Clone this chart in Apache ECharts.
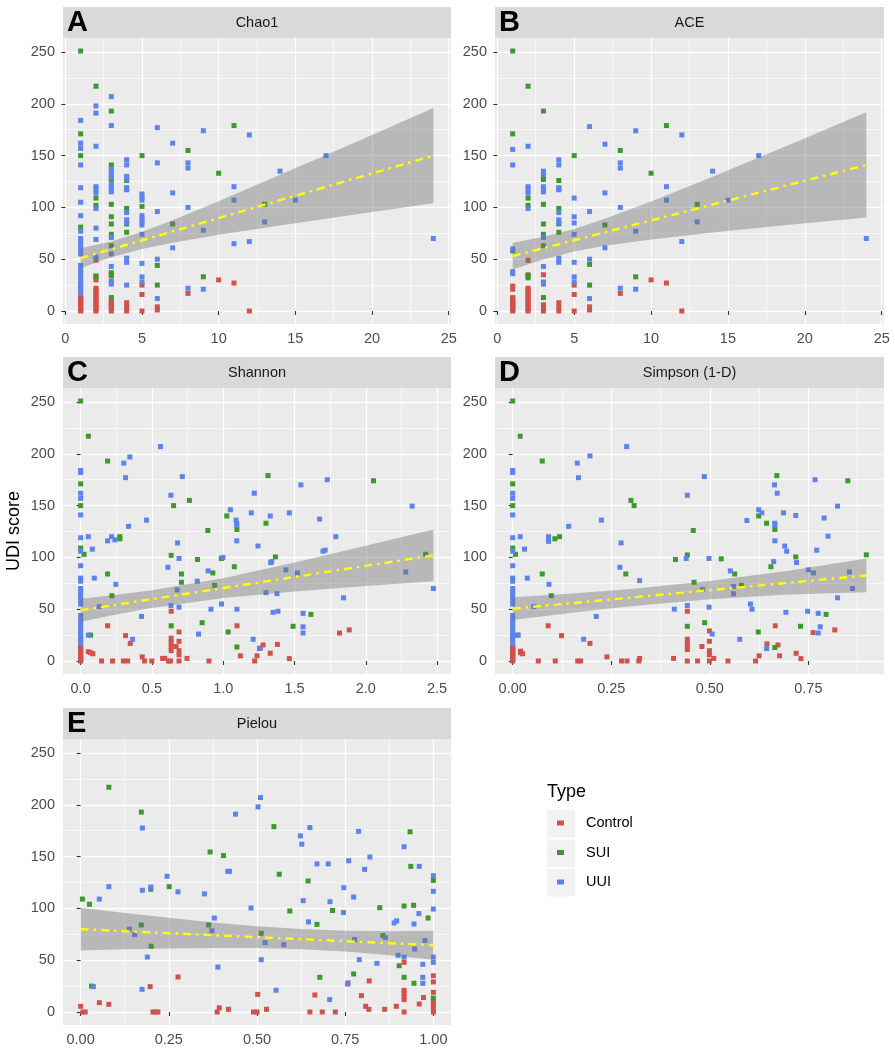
<!DOCTYPE html>
<html><head><meta charset="utf-8">
<script src="https://cdn.jsdelivr.net/npm/echarts@6/dist/echarts.min.js"></script>
<style>html,body{margin:0;padding:0;background:#fff}#c{width:895px;height:1050px}</style>
</head><body><div id="c"></div>
<script>
// ---------------- DATA ----------------
const TYPES = ['Control', 'SUI', 'UUI'];
const Y_TICKS = [0, 50, 100, 150, 200, 250];
const Y_MINOR = [25, 75, 125, 175, 225];
const Y_RANGE = [0, 251];

// Panel A: Chao1 (columns: [x, [y...]])
const A_control = [[1,[0,1,2,3,4,5,6,7,8,9,10,11,12,13,14]],[2,[0,2,4,6,8,10,12,14,16,18,20,22,30,34,49]],[3,[0,2,4,6,8,10,34]],[4,[0,4,8]],[5,[0,16,25]],[6,[1,4]],[8,[17]],[10,[30]],[11,[27]],[12,[0]]];
const A_SUI = [[1,[251,171,150,81,23]],[2,[217,109,102,33]],[3,[193,141,127,103,91,84,74,63,37,35,13]],[4,[126,118,99,84,76]],[5,[150,101]],[6,[44,25]],[7,[84]],[8,[155]],[9,[33]],[10,[133]],[11,[179]],[13,[103]]];
const A_UUI = [[1,[184,162,157,141,119,105,92,77,70,67,64,61,58,55,44,40,37,34,31,27,24,20,17]],[2,[198,191,159,120,117,114,99,80,69,52]],[3,[207,179,137,134,131,129,123,120,117,115,71,55,43,29,26]],[4,[146,141,130,127,119,117,95,88,85,51,47,25]],[5,[113,110,107,92,89,86,83,74,46,33,28]],[6,[177,143,96,50,12]],[7,[162,114,61]],[8,[143,138,100,22]],[9,[174,78,21]],[11,[120,107,65]],[12,[170,67]],[13,[86]],[14,[135]],[15,[107]],[17,[150]],[24,[70]]];
const A_fit = [[1,51],[24,150]];
const A_bandX = [1,3,5,7,10,14,19,24];
const A_bandLo = [41.5,52,59.8,66,73.5,82.5,93.5,104];
const A_bandHi = [60.5,67,76.6,87.6,106,131.5,163.5,196];

// Panel B: ACE
const B_control = [[1,[0,1,2,3,4,5,6,7,8,9,10,11,12,13,21,24]],[2,[0,2,4,6,8,10,12,14,16,18,20,22,35,49]],[3,[0,3,6,35]],[4,[0,4,8]],[5,[0,16,25]],[6,[1,4]],[8,[17]],[10,[30]],[11,[27]],[12,[0]]];
const B_SUI = [[1,[251,171,58]],[2,[217,109,102,34,32]],[3,[193,130,127,103,84,74,63,13]],[4,[126,118,99,84,76]],[5,[150]],[6,[45,25]],[7,[83]],[8,[155]],[9,[33]],[10,[133]],[11,[179]],[13,[103]]];
const B_UUI = [[1,[156,141,60,38,36]],[2,[159,120,117,114,99]],[3,[135,132,120,117,115,71,43,28,26]],[4,[146,141,119,117,95,88,85,51,47]],[5,[109,91,85,74,47,33,28]],[6,[178,96,50,12]],[7,[161,114,61]],[8,[143,138,100,22]],[9,[174,77,21]],[11,[120,107]],[12,[170,67]],[13,[86]],[14,[135]],[15,[107]],[17,[150]],[24,[70]]];
const B_fit = [[1,53],[24,141]];
const B_bandX = [1,3,5,7,10,14,19,24];
const B_bandLo = [40,49.8,57.4,63,69.1,75.7,83.2,90.2];
const B_bandHi = [66,71.6,79.2,89,105.7,129.7,160.6,191.8];

// Samples with a single taxon (x = 0 in Shannon / Simpson)
const zero_control = [0,1,2,3,4,5,6,7,8,9,10,11,12,13,14];
const zero_SUI = [251,171,150,109,22];
const zero_UUI = [184,182,162,157,141,119,106,92,80,77,70,67,64,61,58,55,44,40,37,34,31,27,24,20,17];

// Panel C: Shannon
const C_control = [[0.054,9],[0.07,8],[0.086,7],[0.189,34],[0.147,0],[0.224,0],[0.315,24.5],[0.348,17],[0.30,0],[0.33,0],[0.432,4],[0.448,0],[0.499,0],[0.635,48],[0.635,22],[0.635,18],[0.635,14],[0.635,10],[0.669,14],[0.69,28],[0.69,19],[0.69,10],[0.69,6],[0.69,0],[0.575,2.5],[0.59,2.5],[0.617,0],[0.63,0],[0.746,2.5],[0.90,0],[1.097,34],[1.12,5],[1.22,0],[1.237,5],[1.26,12.5],[1.28,15.5],[1.33,7.5],[1.38,16],[1.464,2.3],[1.816,27],[1.884,30]];
const C_SUI = [[0.054,217],[0.024,103],[0.07,25],[0.189,193],[0.189,84],[0.219,63],[0.275,120],[0.275,118],[0.652,150],[0.635,102],[0.635,34],[0.707,84],[0.707,76],[0.763,155],[0.82,98],[0.852,37],[0.892,126],[0.927,85],[0.94,73],[0.987,99],[1.025,140],[1.096,127],[1.078,91],[1.035,28],[1.096,13.5],[1.30,133],[1.314,179],[1.366,100.5],[1.49,33.5],[1.615,45],[2.054,174],[2.42,103]];
const C_UUI = [[0.054,120],[0.082,108],[0.096,80],[0.054,25],[0.13,52.5],[0.189,116],[0.217,120],[0.240,117],[0.247,74],[0.303,191],[0.345,197],[0.315,177],[0.336,130],[0.364,21],[0.462,136],[0.427,43],[0.560,207],[0.612,90.5],[0.633,160],[0.68,114],[0.69,99],[0.677,68.6],[0.634,53.5],[0.69,52],[0.713,178],[0.818,77],[0.827,26],[0.894,87],[0.914,50],[0.998,100],[0.988,55],[1.05,146],[1.09,136],[1.095,133],[1.095,131],[1.095,116],[1.096,50],[1.197,143],[1.218,162],[1.244,111],[1.21,21],[1.254,12],[1.33,140],[1.333,95],[1.34,96],[1.30,66],[1.377,65],[1.35,47],[1.384,48],[1.464,143],[1.44,88],[1.52,85],[1.545,170],[1.56,46],[1.56,33],[1.56,27],[1.676,137],[1.70,106],[1.715,107],[1.73,175],[1.79,120],[1.844,61],[2.325,149.5],[2.28,86],[2.474,70]];
const C_fit = [[0,49],[2.474,102]];
const C_bandX = [0,0.25,0.5,1.0,1.5,2.0,2.474];
const C_bandLo = [38,44.9,51.2,60.9,67.1,72.3,77];
const C_bandHi = [60,63.9,68.2,79.9,95.1,111.3,127];

// Panel D: Simpson (1-D)
const D_control = [[0.02,9.5],[0.02,8],[0.025,7],[0.065,0],[0.09,34],[0.108,0],[0.124,24.5],[0.165,0],[0.172,0],[0.196,17],[0.239,4],[0.276,0],[0.29,0],[0.32,0],[0.322,2.5],[0.408,2.5],[0.443,48],[0.443,21],[0.443,18],[0.443,14],[0.443,11],[0.443,0],[0.469,0],[0.48,14],[0.499,29],[0.499,19],[0.499,10],[0.499,6],[0.499,0],[0.51,2.5],[0.546,0],[0.616,0],[0.625,5],[0.645,16.5],[0.666,34],[0.673,15.5],[0.677,5],[0.719,7.5],[0.731,2.3],[0.762,27.4],[0.817,30]];
const D_SUI = [[0.019,217],[0.007,103],[0.012,25],[0.075,193],[0.075,84],[0.098,63],[0.107,118],[0.119,120],[0.30,155],[0.308,150],[0.287,84],[0.458,126],[0.443,102.4],[0.413,98],[0.46,76],[0.443,33.5],[0.487,37],[0.529,98.6],[0.563,84],[0.58,73],[0.623,28],[0.624,140],[0.644,133],[0.655,91],[0.665,127],[0.67,179],[0.665,13],[0.718,100.5],[0.73,33.5],[0.795,45],[0.85,174],[0.897,102.5]];
const D_UUI = [[0.019,120],[0.03,108],[0.037,80],[0.014,25],[0.054,52.5],[0.091,115.5],[0.091,120],[0.092,74],[0.142,130],[0.164,191],[0.196,198],[0.167,177],[0.18,21],[0.225,136],[0.212,43],[0.289,207],[0.275,114],[0.272,90.5],[0.322,77.6],[0.443,160],[0.486,178],[0.44,99],[0.482,69],[0.41,50],[0.443,53.5],[0.498,99],[0.498,52],[0.506,26],[0.552,87],[0.56,72],[0.56,65],[0.576,21],[0.594,135.6],[0.603,55],[0.607,50],[0.624,146],[0.632,143],[0.644,12],[0.662,96],[0.665,133],[0.665,131],[0.665,116],[0.664,170],[0.671,162],[0.687,143],[0.69,111],[0.695,106],[0.693,47],[0.718,140.5],[0.72,95],[0.748,48],[0.75,88],[0.763,85],[0.767,175],[0.771,107],[0.775,46],[0.775,27],[0.78,33],[0.79,138],[0.80,120.5],[0.824,149.5],[0.824,61],[0.854,86],[0.862,70]];
const D_fit = [[0,50.5],[0.897,82.6]];
const D_bandX = [0,0.15,0.3,0.5,0.7,0.897];
const D_bandLo = [39.5,46.6,52.9,59.6,64.1,66.3];
const D_bandHi = [61.5,65.2,69.5,77.2,87.1,98.9];

// Panel E: Pielou
const E_control = [[0.0,5.5],[0.006,0],[0.013,0],[0.053,9],[0.08,7.4],[0.197,24.5],[0.205,0],[0.212,0],[0.219,0],[0.276,33.8],[0.387,0],[0.393,4],[0.419,2.6],[0.49,0],[0.50,0],[0.502,17],[0.527,2.6],[0.65,0],[0.664,16.4],[0.685,0],[0.722,0],[0.758,28],[0.796,15.8],[0.808,5.5],[0.817,2.6],[0.818,30],[0.862,2.6],[0.895,5.5],[0.917,48],[0.917,21],[0.917,18],[0.917,15],[0.917,12],[0.917,0],[0.96,7.7],[0.972,14],[1,35],[1,29],[1,19],[1,10],[1,7],[1,4],[1,0]];
const E_SUI = [[0.005,109],[0.025,104],[0.08,217],[0.031,25],[0.172,193],[0.199,118.5],[0.172,84],[0.2,63.5],[0.251,121],[0.363,84],[0.367,154.5],[0.405,151],[0.512,76],[0.548,179],[0.563,133],[0.593,97.5],[0.645,126.5],[0.67,84.6],[0.678,33.5],[0.714,98],[0.774,36.7],[0.848,100.7],[0.857,73.7],[0.903,44.7],[0.917,102.3],[0.917,33.5],[0.934,174],[0.936,140.6],[0.944,103],[0.945,27.7],[0.985,90.7],[1,127],[1,13.5]];
const E_UUI = [[0.053,109],[0.08,121],[0.036,24.5],[0.175,177.6],[0.175,117.5],[0.199,120.7],[0.138,80],[0.153,74.6],[0.189,53],[0.174,21.9],[0.245,131],[0.276,116],[0.351,114],[0.372,78.5],[0.379,90.7],[0.389,43.4],[0.417,135.8],[0.422,135.8],[0.439,191],[0.483,100.4],[0.503,198],[0.51,207],[0.512,50.5],[0.523,67],[0.554,21],[0.576,65],[0.623,170],[0.627,162],[0.631,107.5],[0.646,87],[0.65,178],[0.67,143],[0.702,143],[0.707,106.5],[0.706,12],[0.746,120],[0.745,96],[0.76,146],[0.757,27],[0.774,111],[0.777,70],[0.788,174.4],[0.79,50.5],[0.805,137.7],[0.82,149.6],[0.84,47],[0.864,71.8],[0.889,86],[0.896,88],[0.90,54.7],[0.917,159.6],[0.917,53],[0.945,85],[0.947,60.8],[0.96,140.6],[0.959,95],[0.976,69],[0.97,46],[0.97,33.5],[0.97,27.7],[1,131.6],[1,116.5],[1,99.4],[1,53],[1,48]];
const E_fit = [[0,80],[1,64.5]];
const E_bandX = [0,0.125,0.25,0.375,0.5,0.625,0.75,0.875,1];
const E_bandLo = [59.4,60.6,61.3,61.9,61.7,60.5,58.4,54.9,50.5];
const E_bandHi = [100.6,95.6,90.9,86.5,82.9,80.1,78.4,77.9,78.5];

// x-axis ticks
const AB_xTicks = [0,5,10,15,20,25], AB_xMinor = [2.5,7.5,12.5,17.5,22.5];
const C_xTicks = [0,0.5,1.0,1.5,2.0,2.5], C_xMinor = [0.25,0.75,1.25,1.75,2.25];
const D_xTicks = [0,0.25,0.5,0.75], D_xMinor = [0.125,0.375,0.625,0.875];
const E_xTicks = [0,0.25,0.5,0.75,1.0], E_xMinor = [0.125,0.375,0.625,0.875];

// ---------------- BUILD ----------------
const FONT = '"Liberation Sans", Arial, Helvetica, sans-serif';
const COLORS = { Control: '#D1524C', SUI: '#3A9A2A', UUI: '#5C83EE' };
const cols = c => { const o = []; c.forEach(([x, ys]) => ys.forEach(y => o.push([x, y]))); return o; };
const zeroCol = ys => ys.map(y => [0, y]);

const panels = [
  { letter: 'A', title: 'Chao1', left: 63, top: 38, width: 388, height: 286,
    pts: { Control: cols(A_control), SUI: cols(A_SUI), UUI: cols(A_UUI) },
    fit: A_fit, bx: A_bandX, blo: A_bandLo, bhi: A_bandHi, xt: AB_xTicks, xm: AB_xMinor, fmt: v => String(v) },
  { letter: 'B', title: 'ACE', left: 495, top: 38, width: 389, height: 286,
    pts: { Control: cols(B_control), SUI: cols(B_SUI), UUI: cols(B_UUI) },
    fit: B_fit, bx: B_bandX, blo: B_bandLo, bhi: B_bandHi, xt: AB_xTicks, xm: AB_xMinor, fmt: v => String(v) },
  { letter: 'C', title: 'Shannon', left: 63, top: 388, width: 388, height: 286, yName: 'UDI score',
    pts: { Control: zeroCol(zero_control).concat(C_control), SUI: zeroCol(zero_SUI).concat(C_SUI), UUI: zeroCol(zero_UUI).concat(C_UUI) },
    fit: C_fit, bx: C_bandX, blo: C_bandLo, bhi: C_bandHi, xt: C_xTicks, xm: C_xMinor, fmt: v => v.toFixed(1) },
  { letter: 'D', title: 'Simpson (1-D)', left: 495, top: 388, width: 389, height: 286,
    pts: { Control: zeroCol(zero_control).concat(D_control), SUI: zeroCol(zero_SUI).concat(D_SUI), UUI: zeroCol(zero_UUI).concat(D_UUI) },
    fit: D_fit, bx: D_bandX, blo: D_bandLo, bhi: D_bandHi, xt: D_xTicks, xm: D_xMinor, fmt: v => v.toFixed(2) },
  { letter: 'E', title: 'Pielou', left: 63, top: 739, width: 388, height: 286,
    pts: { Control: E_control, SUI: E_SUI, UUI: E_UUI },
    fit: E_fit, bx: E_bandX, blo: E_bandLo, bhi: E_bandHi, xt: E_xTicks, xm: E_xMinor, fmt: v => v.toFixed(2) }
];

const yPad = (Y_RANGE[1] - Y_RANGE[0]) * 0.05;
const yMin = Y_RANGE[0] - yPad, yMax = Y_RANGE[1] + yPad;

const grid = [], xAxis = [], yAxis = [], series = [], graphic = [];
panels.forEach((p, i) => {
  const allX = [].concat(p.pts.Control, p.pts.SUI, p.pts.UUI).map(d => d[0]);
  const x0 = Math.min(...allX), x1 = Math.max(...allX), xp = (x1 - x0) * 0.05;
  grid.push({ left: p.left, top: p.top, width: p.width, height: p.height, show: true,
    backgroundColor: '#EBEBEB', borderWidth: 0, containLabel: false, outerBoundsMode: 'none' });
  const labelStyle = { color: '#4D4D4D', fontSize: 14.5, fontFamily: FONT };
  xAxis.push({ type: 'value', gridIndex: i, min: x0 - xp, max: x1 + xp, z: 1,
    axisLine: { show: false },
    axisTick: { show: true, length: 4, lineStyle: { color: '#333', width: 1.1 }, customValues: p.xt },
    axisLabel: Object.assign({ customValues: p.xt, formatter: p.fmt, margin: 7 }, labelStyle),
    splitLine: { show: true, lineStyle: { color: '#FFFFFF', width: 1.3 } } });
  xAxis.push({ type: 'value', gridIndex: i, min: x0 - xp, max: x1 + xp, z: 0,
    axisLine: { show: false }, axisTick: { show: false, customValues: p.xm },
    axisLabel: { show: false, customValues: p.xm },
    splitLine: { show: true, lineStyle: { color: '#FFFFFF', width: 0.6 } } });
  yAxis.push({ type: 'value', gridIndex: i, min: yMin, max: yMax, position: 'left', z: 1,
    name: p.yName || '', nameLocation: 'middle', nameGap: 40,
    nameTextStyle: { color: '#000', fontSize: 18, fontFamily: FONT },
    axisLine: { show: false },
    axisTick: { show: true, length: 4, lineStyle: { color: '#333', width: 1.1 }, customValues: Y_TICKS },
    axisLabel: Object.assign({ customValues: Y_TICKS, formatter: v => String(v), margin: 8 }, labelStyle),
    splitLine: { show: true, lineStyle: { color: '#FFFFFF', width: 1.3 } } });
  yAxis.push({ type: 'value', gridIndex: i, min: yMin, max: yMax, position: 'left', z: 0,
    axisLine: { show: false }, axisTick: { show: false, customValues: Y_MINOR },
    axisLabel: { show: false, customValues: Y_MINOR },
    splitLine: { show: true, lineStyle: { color: '#FFFFFF', width: 0.6 } } });

  const xi = 2 * i, yi = 2 * i;
  TYPES.forEach(t => series.push({
    type: 'scatter', name: t, xAxisIndex: xi, yAxisIndex: yi, data: p.pts[t],
    symbol: 'rect', symbolSize: 5, itemStyle: { color: COLORS[t], opacity: 1 }, z: 2, silent: true, clip: false
  }));
  // confidence band as a polygon placed through the axis scales
  const upper = p.bx.map((x, k) => [x, p.bhi[k]]);
  const lower = p.bx.map((x, k) => [x, p.blo[k]]).reverse();
  series.push({ type: 'custom', name: 'band_' + i, xAxisIndex: xi, yAxisIndex: yi,
    data: [[p.bx[0], p.blo[0]]], z: 3, silent: true, clip: false,
    renderItem: (params, api) => ({
      type: 'polygon',
      shape: { points: upper.concat(lower).map(c => api.coord(c)) },
      style: { fill: 'rgba(115,115,115,0.42)' }
    })
  });
  series.push({ type: 'line', name: 'fit_' + i, xAxisIndex: xi, yAxisIndex: yi, data: p.fit,
    showSymbol: false, symbol: 'none', z: 4, silent: true,
    lineStyle: { color: '#FFFF00', width: 2.4, type: [8, 5, 2.5, 5] } });

  graphic.push({ type: 'rect', shape: { x: p.left, y: p.top - 31, width: p.width, height: 31 },
    style: { fill: '#D9D9D9' }, silent: true });
  graphic.push({ type: 'text', x: p.left + p.width / 2, y: p.top - 15.5,
    style: { text: p.title, fill: '#1A1A1A', font: '14.5px ' + FONT, textAlign: 'center', textVerticalAlign: 'middle' } });
  graphic.push({ type: 'text', x: p.left + 4, y: p.top - 15.5,
    style: { text: p.letter, fill: '#000', font: 'bold 29px ' + FONT, textAlign: 'left', textVerticalAlign: 'middle' } });
});

graphic.push({ type: 'text', x: 547, y: 792,
  style: { text: 'Type', fill: '#000', font: '18px ' + FONT, textAlign: 'left', textVerticalAlign: 'middle' } });
[810, 839.5, 869].forEach(y => graphic.push({ type: 'rect', shape: { x: 547, y: y, width: 28, height: 27.5 },
  style: { fill: '#F2F2F2' }, silent: true }));

const chart = echarts.init(document.getElementById('c'), null, { renderer: 'canvas' });
chart.setOption({
  animation: false,
  backgroundColor: '#FFFFFF',
  grid, xAxis, yAxis, series,
  legend: {
    data: TYPES, orient: 'vertical', left: 557, top: 815, padding: 0, icon: 'rect', itemWidth: 7, itemHeight: 5,
    itemGap: 13.5, selectedMode: false,
    textStyle: { color: '#000', fontSize: 14.5, fontFamily: FONT, lineHeight: 16, padding: [0, 0, 0, 17] }
  },
  graphic: { elements: graphic }
});
</script></body></html>
